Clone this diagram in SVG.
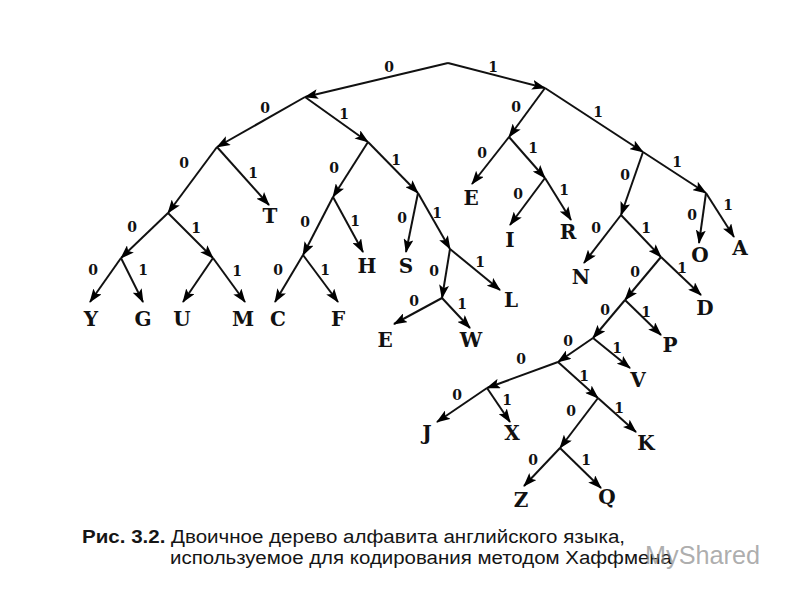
<svg xmlns="http://www.w3.org/2000/svg" width="800" height="600" viewBox="0 0 800 600">
<defs>
<marker id="arr" viewBox="0 0 14 10" refX="13" refY="5" markerWidth="14" markerHeight="10" markerUnits="userSpaceOnUse" orient="auto">
<path d="M0,0 L14,5 L0,10 L3,5 z" fill="#000"/>
</marker>
<style>
.e{stroke:#111;stroke-width:2;fill:none;marker-end:url(#arr)}
.b{font-family:"DejaVu Serif","Liberation Serif",serif;font-weight:bold;font-size:14px;fill:#111;text-anchor:middle}
.l{font-family:"DejaVu Serif","Liberation Serif",serif;font-weight:bold;font-size:20px;fill:#111;text-anchor:middle}
.c{font-family:"Liberation Sans","Noto Sans",sans-serif;font-size:18px;fill:#151515}
.w{font-family:"Liberation Sans","Noto Sans",sans-serif;font-size:25px;fill:#8a8a8a;fill-opacity:0.7}
</style>
</defs>
<rect width="800" height="600" fill="#fff"/>
<g id="connectors">
<line class="e" x1="448" y1="63" x2="305" y2="97"/>
<line class="e" x1="448" y1="63" x2="545" y2="88"/>
<line class="e" x1="305" y1="97" x2="217" y2="147"/>
<line class="e" x1="305" y1="97" x2="368" y2="142"/>
<line class="e" x1="217" y1="147" x2="168" y2="213"/>
<line class="e" x1="217" y1="147" x2="269" y2="205"/>
<line class="e" x1="168" y1="213" x2="121" y2="258"/>
<line class="e" x1="168" y1="213" x2="213" y2="258"/>
<line class="e" x1="121" y1="258" x2="90" y2="302"/>
<line class="e" x1="121" y1="258" x2="143" y2="302"/>
<line class="e" x1="213" y1="258" x2="183" y2="302"/>
<line class="e" x1="213" y1="258" x2="245" y2="302"/>
<line class="e" x1="368" y1="142" x2="333" y2="197"/>
<line class="e" x1="368" y1="142" x2="418" y2="193"/>
<line class="e" x1="333" y1="197" x2="303" y2="255"/>
<line class="e" x1="333" y1="197" x2="363" y2="252"/>
<line class="e" x1="303" y1="255" x2="275" y2="302"/>
<line class="e" x1="303" y1="255" x2="338" y2="302"/>
<line class="e" x1="418" y1="193" x2="406" y2="252"/>
<line class="e" x1="418" y1="193" x2="450" y2="249"/>
<line class="e" x1="450" y1="249" x2="442" y2="298"/>
<line class="e" x1="450" y1="249" x2="500" y2="290"/>
<line class="e" x1="442" y1="298" x2="394" y2="324"/>
<line class="e" x1="442" y1="298" x2="470" y2="328"/>
<line class="e" x1="545" y1="88" x2="509" y2="137"/>
<line class="e" x1="545" y1="88" x2="643" y2="152"/>
<line class="e" x1="509" y1="137" x2="472" y2="184"/>
<line class="e" x1="509" y1="137" x2="545" y2="178"/>
<line class="e" x1="545" y1="178" x2="510" y2="225"/>
<line class="e" x1="545" y1="178" x2="571" y2="220"/>
<line class="e" x1="643" y1="152" x2="621" y2="215"/>
<line class="e" x1="643" y1="152" x2="706" y2="193"/>
<line class="e" x1="706" y1="193" x2="699" y2="243"/>
<line class="e" x1="706" y1="193" x2="734" y2="237"/>
<line class="e" x1="621" y1="215" x2="584" y2="263"/>
<line class="e" x1="621" y1="215" x2="661" y2="257"/>
<line class="e" x1="661" y1="257" x2="625" y2="300"/>
<line class="e" x1="661" y1="257" x2="701" y2="295"/>
<line class="e" x1="625" y1="300" x2="593" y2="338"/>
<line class="e" x1="625" y1="300" x2="661" y2="335"/>
<line class="e" x1="593" y1="338" x2="558" y2="362"/>
<line class="e" x1="593" y1="338" x2="630" y2="368"/>
<line class="e" x1="558" y1="362" x2="487" y2="388"/>
<line class="e" x1="558" y1="362" x2="598" y2="398"/>
<line class="e" x1="487" y1="388" x2="437" y2="422"/>
<line class="e" x1="487" y1="388" x2="510" y2="422"/>
<line class="e" x1="598" y1="398" x2="560" y2="448"/>
<line class="e" x1="598" y1="398" x2="636" y2="432"/>
<line class="e" x1="560" y1="448" x2="524" y2="486"/>
<line class="e" x1="560" y1="448" x2="601" y2="488"/>
<g id="edge-labels">
<text class="b" x="389" y="72">0</text>
<text class="b" x="493" y="72">1</text>
<text class="b" x="265" y="113">0</text>
<text class="b" x="344" y="119">1</text>
<text class="b" x="184" y="168">0</text>
<text class="b" x="253" y="178">1</text>
<text class="b" x="132" y="232">0</text>
<text class="b" x="196" y="233">1</text>
<text class="b" x="93" y="275">0</text>
<text class="b" x="143" y="275">1</text>
<text class="b" x="237" y="276">1</text>
<text class="b" x="334" y="173">0</text>
<text class="b" x="396" y="165">1</text>
<text class="b" x="305" y="227">0</text>
<text class="b" x="355" y="226">1</text>
<text class="b" x="278" y="275">0</text>
<text class="b" x="325" y="275">1</text>
<text class="b" x="402" y="223">0</text>
<text class="b" x="437" y="218">1</text>
<text class="b" x="434" y="276">0</text>
<text class="b" x="480" y="267">1</text>
<text class="b" x="414" y="306">0</text>
<text class="b" x="462" y="309">1</text>
<text class="b" x="516" y="112">0</text>
<text class="b" x="598" y="117">1</text>
<text class="b" x="482" y="158">0</text>
<text class="b" x="533" y="153">1</text>
<text class="b" x="518" y="199">0</text>
<text class="b" x="564" y="195">1</text>
<text class="b" x="625" y="180">0</text>
<text class="b" x="677" y="167">1</text>
<text class="b" x="692" y="220">0</text>
<text class="b" x="728" y="210">1</text>
<text class="b" x="596" y="233">0</text>
<text class="b" x="646" y="233">1</text>
<text class="b" x="635" y="277">0</text>
<text class="b" x="682" y="273">1</text>
<text class="b" x="605" y="315">0</text>
<text class="b" x="646" y="317">1</text>
<text class="b" x="568" y="346">0</text>
<text class="b" x="617" y="353">1</text>
<text class="b" x="521" y="364">0</text>
<text class="b" x="584" y="381">1</text>
<text class="b" x="457" y="400">0</text>
<text class="b" x="507" y="405">1</text>
<text class="b" x="571" y="416">0</text>
<text class="b" x="619" y="413">1</text>
<text class="b" x="533" y="465">0</text>
<text class="b" x="586" y="465">1</text>
</g>
</g>
<g id="leaf-T"><text class="l" x="270" y="223">T</text></g>
<g id="leaf-Y"><text class="l" x="91" y="326">Y</text></g>
<g id="leaf-G"><text class="l" x="143" y="326">G</text></g>
<g id="leaf-U"><text class="l" x="182" y="326">U</text></g>
<g id="leaf-M"><text class="l" x="243" y="326">M</text></g>
<g id="leaf-C"><text class="l" x="278" y="326">C</text></g>
<g id="leaf-F"><text class="l" x="338" y="326">F</text></g>
<g id="leaf-H"><text class="l" x="367" y="273">H</text></g>
<g id="leaf-S"><text class="l" x="406" y="273">S</text></g>
<g id="leaf-L"><text class="l" x="511" y="307">L</text></g>
<g id="leaf-E2"><text class="l" x="385" y="347">E</text></g>
<g id="leaf-W"><text class="l" x="471" y="347">W</text></g>
<g id="leaf-E"><text class="l" x="471" y="205">E</text></g>
<g id="leaf-I"><text class="l" x="510" y="247">I</text></g>
<g id="leaf-R"><text class="l" x="568" y="239">R</text></g>
<g id="leaf-O"><text class="l" x="700" y="262">O</text></g>
<g id="leaf-A"><text class="l" x="740" y="255">A</text></g>
<g id="leaf-N"><text class="l" x="581" y="284">N</text></g>
<g id="leaf-D"><text class="l" x="705" y="315">D</text></g>
<g id="leaf-P"><text class="l" x="670" y="352">P</text></g>
<g id="leaf-V"><text class="l" x="638" y="387">V</text></g>
<g id="leaf-J"><text class="l" x="427" y="440">J</text></g>
<g id="leaf-X"><text class="l" x="512" y="440">X</text></g>
<g id="leaf-K"><text class="l" x="646" y="450">K</text></g>
<g id="leaf-Z"><text class="l" x="521" y="507">Z</text></g>
<g id="leaf-Q"><text class="l" x="607" y="504">Q</text></g>
<g id="caption">
<text class="c" x="82" y="543" textLength="543" lengthAdjust="spacingAndGlyphs"><tspan font-weight="bold">Рис. 3.2.</tspan> Двоичное дерево алфавита английского языка,</text>
<text class="c" x="170" y="564" textLength="502" lengthAdjust="spacingAndGlyphs">используемое для кодирования методом Хаффмена</text>
<text class="w" x="645" y="564" textLength="115" lengthAdjust="spacingAndGlyphs">MyShared</text>
</g>
</svg>
